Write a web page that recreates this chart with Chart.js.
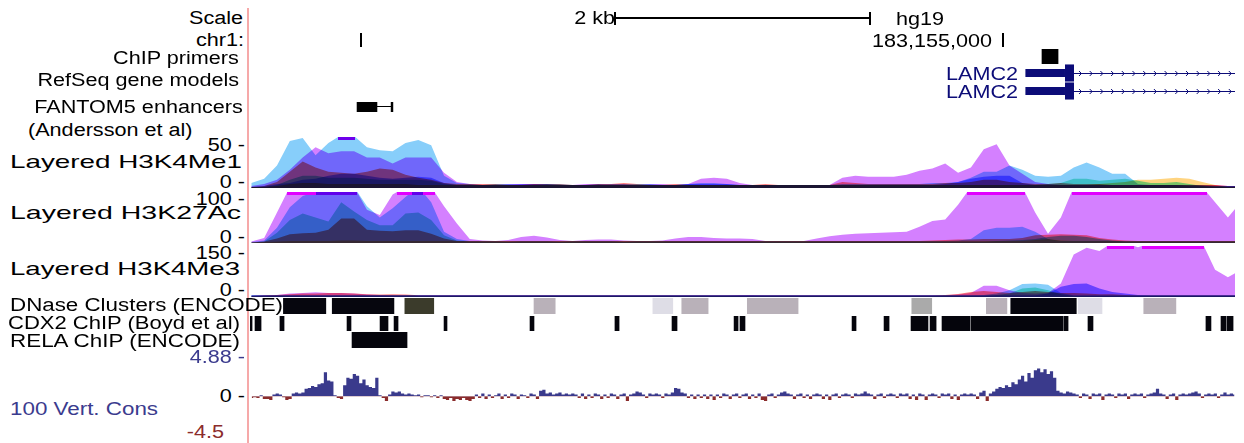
<!DOCTYPE html>
<html>
<head>
<meta charset="utf-8">
<script src="https://cdn.jsdelivr.net/npm/chart.js@4.4.1/dist/chart.umd.min.js"></script>
<style>
html,body{margin:0;padding:0;background:#fff;}
body{position:relative;width:1244px;height:443px;overflow:hidden;font-family:"Liberation Sans",Arial,Helvetica,sans-serif;}
canvas{position:absolute;left:250px;}
.lbl{position:absolute;white-space:nowrap;font-size:18px;line-height:18px;height:18px;}
#pink{position:absolute;left:247px;top:8px;width:2px;height:435px;background:#f6a9a9;}
</style>
</head>
<body>
<div id="pink"></div>
<script>
// ---------------- DATA ----------------
// genomic window chr1 (hg19)
const XMIN = 183149140, XMAX = 183156805;
const TICK_STEP = 5000;           // base-position ticks
const SCALE_BAR_BP = 2000;        // "2 kb"
// signal bins: 100 bp
const BIN_START = 183149150, BIN_STEP = 100, BIN_COUNT = 78;
// conservation bins: 25 bp
const CONS_START = 183149152, CONS_STEP = 25, CONS_COUNT = 307;

// Layered H3K4Me1 (view 0-50)
const k4me1_HUVEC = [5,9,22,46,49,32,44,52,51,40,37,36,44,47,42,12,5,4,
 3,4,4,3,3,4,4,3,3,4,3,3,4,4,3,3,
 4,5,5,4,3,3,3,3,3,3,3,3,4,4,4,4,4,4,4,5,5,6,
 10,16,16,22,18,12,11,12,20,25,20,14,14,4,3,3,3,3,3,2,2,2];
const k4me1_NHEK = [2,4,8,18,30,40,34,36,36,30,30,24,30,30,30,15,6,4,
 3,3,4,4,4,3,3,3,4,4,3,3,3,4,4,3,
 4,9,10,9,5,3,3,3,3,3,3,3,10,12,11,11,11,13,17,19,24,15,
 20,38,43,22,14,6,4,3,3,3,3,3,3,3,3,3,3,3,3,3,2,2];
const k4me1_K562 = [1,2,4,5,8,9,12,14,14,12,10,9,10,11,10,5,3,3,
 3,3,3,4,4,4,3,3,3,3,4,4,3,3,3,3,
 4,4,4,4,3,3,3,3,3,3,3,3,3,3,3,3,3,3,3,3,4,6,
 9,11,12,12,5,3,3,3,3,3,3,3,3,3,3,3,3,2,2,2,2,2];
const k4me1_GM12878 = [1,2,6,16,26,20,16,15,14,16,19,18,13,10,8,5,4,4,
 4,4,3,3,4,4,4,3,3,4,4,5,4,3,3,4,
 3,3,3,3,3,3,4,3,3,3,3,3,6,5,4,4,4,4,4,4,5,5,
 6,8,8,6,5,4,4,5,4,4,4,3,3,3,3,3,3,3,3,3,2,2];
const k4me1_HSMM = [1,1,3,8,12,12,10,10,10,9,8,8,8,8,7,4,3,3,
 3,3,3,3,3,3,3,3,3,3,3,3,3,3,3,3,
 3,3,3,3,3,3,3,3,3,3,3,3,3,3,3,3,3,3,3,3,3,3,
 3,3,3,3,3,3,4,5,9,9,7,8,9,7,5,5,6,4,2,1,1,1];
const k4me1_H1 = [1,1,2,4,5,5,4,4,4,4,4,4,4,3,3,3,3,3,
 3,3,3,3,3,3,3,3,3,3,3,3,3,3,3,3,
 3,3,3,3,3,3,3,3,3,3,3,3,3,3,3,3,3,3,3,3,3,3,
 3,3,3,3,3,3,3,3,3,3,4,5,6,8,8,9,10,9,6,3,1,1];

// Layered H3K27Ac (view 0-100)
const k27_NHEK = [3,10,60,110,110,110,110,110,110,65,55,95,110,110,110,72,38,8,
 5,4,6,12,14,11,6,4,6,7,7,5,4,4,5,9,
 12,12,10,9,9,8,4,4,4,4,9,13,16,18,19,20,21,22,32,43,46,75,
 110,110,110,110,110,60,18,50,110,110,110,110,110,110,110,110,110,110,110,80,50,80];
const k27_HUVEC = [2,5,30,70,92,100,110,110,110,72,50,68,90,110,80,22,8,4,
 4,4,3,4,4,4,3,4,4,4,4,3,4,4,4,4,
 4,4,4,4,4,4,4,4,4,4,4,4,4,4,4,4,4,4,4,4,4,5,
 8,25,30,30,32,22,8,4,4,4,4,4,4,4,4,4,4,4,4,4,4,4];
const k27_HSMM = [1,3,20,45,58,50,42,80,62,45,35,35,58,60,45,15,5,3,
 3,3,3,3,3,3,3,3,3,3,3,3,3,3,3,3,
 3,3,3,3,3,3,3,3,3,3,3,3,3,3,3,3,3,3,3,3,3,3,
 3,3,4,5,6,8,12,14,14,12,8,5,3,3,3,3,3,3,3,3,3,3];
const k27_GM12878 = [1,3,9,17,19,20,26,48,48,26,24,23,25,25,18,9,4,4,
 4,4,4,4,4,4,4,4,4,4,4,4,4,4,4,4,
 4,4,4,4,4,4,4,4,4,4,4,4,4,4,4,4,4,4,4,5,6,7,
 7,8,8,8,10,15,16,17,16,15,10,7,5,4,4,4,4,4,4,4,4,4];
const k27_H1 = [1,2,3,4,4,4,4,5,5,4,4,4,4,4,4,4,4,4,
 4,4,4,4,4,4,4,4,4,4,4,4,4,4,4,4,
 4,4,4,4,4,4,4,4,4,4,4,4,4,4,4,4,4,4,4,4,4,4,
 4,4,4,4,4,6,8,5,4,4,4,4,4,4,4,4,4,4,4,4,4,4];

// Layered H3K4Me3 (view 0-150)
const k4me3_NHEK = [4,5,6,10,12,14,12,12,10,7,6,5,5,5,5,5,5,5,
 5,5,5,5,5,5,5,5,5,5,5,5,5,5,5,5,
 5,5,5,5,6,6,5,5,5,5,5,5,5,5,5,5,5,5,5,5,5,7,
 12,33,33,20,12,10,12,40,125,145,135,160,160,146,160,160,160,160,160,80,58,80];
const k4me3_GM12878 = [4,5,6,8,10,10,12,12,10,8,7,8,7,5,5,5,5,5,
 5,5,5,5,5,5,5,5,5,5,5,5,5,5,5,5,
 5,5,5,5,5,5,5,5,5,5,5,5,5,5,5,5,5,5,5,5,6,9,
 15,18,15,12,15,18,15,12,12,10,8,8,6,5,5,5,5,5,5,5,5,5];
const k4me3_K562 = [5,5,5,5,5,5,5,5,5,5,5,5,5,5,5,5,5,5,
 5,5,5,5,5,5,5,5,5,5,5,5,5,5,5,5,
 5,5,5,5,5,5,5,5,5,5,5,5,5,5,5,5,5,5,5,5,5,5,
 5,5,5,5,5,5,10,30,38,40,25,15,10,6,5,5,5,5,5,5,5,5];
const k4me3_HUVEC = [5,5,5,5,5,5,5,5,5,5,5,5,5,5,5,5,5,5,
 5,5,5,5,5,5,5,5,5,5,5,5,5,5,5,5,
 5,5,5,5,5,5,5,5,5,5,5,5,5,5,5,5,5,5,5,5,5,5,
 5,6,10,20,38,40,36,12,5,5,5,5,5,5,5,5,5,5,5,5,5,5];
const k4me3_HSMM = [4,4,4,4,4,4,4,4,4,4,4,4,4,4,4,4,4,4,
 4,4,4,4,4,4,4,4,4,4,4,4,4,4,4,4,
 4,4,4,4,4,4,4,4,4,4,4,4,4,4,4,4,4,4,4,4,4,4,
 4,4,6,10,25,28,20,8,4,4,4,4,4,4,4,4,4,4,4,4,4,4];

// 100 vertebrates conservation (view -4.5 .. 4.88), 25 bp bins
const consValues = [
 -0.2,-0.1,-0.2,0.1,-0.3,-0.3,-0.4,0.2,0.3,0.2,
 -0.1,-0.4,-0.3,0.3,0.4,0.3,0.4,0.8,0.9,1.1,
 1.0,1.3,1.4,2.6,1.7,1.6,0.1,-0.2,-0.3,1.2,
 2.0,1.9,2.4,2.2,1.4,1.8,1.2,1.0,0.9,2.0,
 0.1,-0.2,-0.5,0.2,0.5,0.4,0.5,0.3,0.2,0.3,
 0.2,0.1,0.2,-0.1,0.1,0.1,-0.1,0.1,-0.2,0.1,
 -0.3,-0.4,-0.2,-0.5,-0.3,-0.4,-0.2,-0.4,-0.5,-0.3,
 0.2,-0.2,0.3,-0.3,0.2,-0.2,0.1,0.3,-0.3,0.2,
 -0.2,0.3,0.2,-0.3,0.2,0.1,-0.2,0.3,0.2,-0.3,
 0.6,0.7,0.3,0.4,0.2,0.3,0.4,0.2,0.3,0.2,
 0.3,0.2,-0.2,0.3,-0.3,0.2,-0.2,0.3,0.2,-0.3,
 0.2,-0.2,0.3,0.2,-0.3,0.2,0.3,-0.5,0.2,0.3,
 0.5,0.4,0.2,-0.2,0.3,0.2,0.3,0.2,-0.2,0.3,
 0.2,0.4,0.9,0.8,0.4,0.3,-0.2,0.2,-0.3,0.2,
 -0.2,0.2,-0.3,0.2,-0.4,0.2,-0.2,0.3,0.2,-0.3,
 0.2,0.3,-0.2,0.2,0.3,-0.3,0.2,-0.2,0.3,-0.4,
 -0.5,0.2,0.3,-0.2,0.2,0.4,0.5,0.3,0.2,-0.3,
 0.2,0.3,-0.2,0.2,-0.3,0.2,0.3,0.2,-0.3,0.2,
 -0.4,0.2,0.3,-0.2,0.2,0.3,0.2,-0.2,0.3,0.2,
 0.3,0.5,0.3,0.2,-0.3,0.2,0.3,-0.2,0.2,0.3,
 0.2,-0.2,0.3,0.2,0.3,-0.3,0.2,-0.4,0.3,0.2,
 -0.4,0.2,0.3,0.2,-0.2,0.3,0.2,0.3,-0.3,0.2,
 -0.4,0.2,0.3,0.2,0.3,0.2,-0.3,0.4,0.6,-0.5,
 0.3,0.5,0.8,1.0,0.9,1.2,1.0,1.5,1.3,1.8,
 2.2,1.6,2.5,2.0,2.8,3.0,2.6,2.9,2.4,2.7,
 2.0,0.6,0.4,0.3,0.5,0.4,0.3,0.2,-0.2,0.3,
 0.2,-0.3,0.3,0.2,0.3,-0.4,0.2,0.3,0.2,-0.2,
 0.3,0.2,0.3,-0.3,0.2,0.3,0.2,0.3,-0.2,0.2,
 0.3,0.4,0.8,0.3,0.2,-0.3,0.2,0.3,-0.4,0.2,
 0.3,0.2,0.3,0.4,0.5,0.3,-0.2,0.2,0.3,0.2,
 0.3,-0.2,0.2,0.4,0.2,0.3,0.2];

// DNase clusters (ENCODE): start, end, score
const dnaseStarts = [183149400,183149780,183150345,183151350,183152275,183152500,183153010,183154290,183154870,183155060,183155585,183156095];
const dnaseEnds   = [183149730,183150260,183150570,183151515,183152430,183152705,183153405,183154445,183155030,183155570,183155770,183156345];
const dnaseScores = [1000,1000,800,300,150,300,300,400,300,1000,150,300];

// CDX2 ChIP peaks (Boyd et al)
const cdx2Starts = [183149130,183149179,183149373,183149895,183150152,183150261,183150650,183151319,183151980,183152424,183152907,183152953,183153825,183154074,183154284,183154432,183154525,183154751,183155474,183155661,183156579,183156696,183156743];
const cdx2Ends   = [183149156,183149226,183149405,183149926,183150214,183150292,183150673,183151350,183152012,183152463,183152938,183152992,183153856,183154113,183154416,183154479,183154743,183155467,183155506,183155700,183156618,183156735,183156790];

// RELA ChIP (ENCODE)
const relaStarts = [183149934];
const relaEnds   = [183150362];

// ChIP primers
const primerStarts = [183155303];
const primerEnds   = [183155428];

// FANTOM5 enhancer (blocks of one feature)
const fantomBlockStarts = [183149973, 183150238];
const fantomBlockEnds   = [183150128, 183150252];

// RefSeq LAMC2 transcripts
const geneNames    = ['LAMC2', 'LAMC2'];
const geneTxStart  = [183155174, 183155174];
const geneCdsStart = [183155482, 183155482];
const geneExon1End = [183155552, 183155552];
const geneTxEnd    = [183214035, 183214035];

// ---------------- RENDERING ----------------
const W = 985;
const binPos = Array.from({length: BIN_COUNT}, (_, i) => BIN_START + i * BIN_STEP);
const consPos = Array.from({length: CONS_COUNT}, (_, i) => CONS_START + i * CONS_STEP);

const COL = {
  GM12878: 'rgb(255,128,128)', H1: 'rgb(255,212,128)', HSMM: 'rgb(120,235,204)',
  HUVEC: 'rgb(135,206,250)', K562: 'rgb(128,128,255)', NHEK: 'rgb(212,128,255)'
};
const CLIP = { NHEK: [225,0,255], HUVEC: [110,0,235] };
const NAVY = '#0c0c78';

function mkCanvas(top, h) {
  const c = document.createElement('canvas');
  c.width = W; c.height = h;
  c.style.top = top + 'px'; c.style.width = W + 'px'; c.style.height = h + 'px';
  document.body.appendChild(c);
  return c;
}
function baseOptions(extra) {
  return Object.assign({
    responsive: false, animation: false, devicePixelRatio: 1, events: [],
    layout: { padding: 0 },
    plugins: { legend: { display: false }, tooltip: { enabled: false } }
  }, extra);
}
const xScale = () => ({ type: 'linear', min: XMIN, max: XMAX, display: false });

function valueAt(data, v) {
  if (v <= data[0].x) return data[0].y;
  for (let i = 1; i < data.length; i++) {
    if (v <= data[i].x) {
      const a = data[i - 1], b = data[i];
      return a.y + (b.y - a.y) * (v - a.x) / (b.x - a.x);
    }
  }
  return data[data.length - 1].y;
}

const layerPlugin = {
  id: 'layered',
  beforeDatasetsDraw(chart) { chart.ctx.save(); chart.ctx.globalCompositeOperation = 'multiply'; },
  afterDatasetsDraw(chart) {
    const ctx = chart.ctx; ctx.restore();
    const { left, right, top } = chart.chartArea;
    const xs = chart.scales.x, max = chart.scales.y.max;
    ctx.save();
    for (let px = Math.floor(left); px < right; px++) {
      const v = xs.getValueForPixel(px + 0.5);
      let col = null;
      chart.data.datasets.forEach(ds => {
        if (!ds.clipColor) return;
        if (valueAt(ds.data, v) > max) {
          col = col ? col.map((c, k) => Math.round(c * ds.clipColor[k] / 255)) : ds.clipColor.slice();
        }
      });
      if (col) { ctx.fillStyle = 'rgb(' + col.join(',') + ')'; ctx.fillRect(px, top, 1, 3); }
    }
    ctx.restore();
  }
};

function layeredTrack(top, h, max, layers) {
  new Chart(mkCanvas(top, h), {
    type: 'line',
    data: { datasets: layers.map(L => ({
      data: binPos.map((x, i) => ({ x, y: L.values[i] })),
      backgroundColor: L.color, fill: 'origin', borderWidth: 0, pointRadius: 0, tension: 0,
      clipColor: L.clip || null
    })) },
    options: baseOptions({ scales: { x: xScale(), y: { display: false, min: 0, max } } }),
    plugins: [layerPlugin]
  });
}

function intervalTrack(top, h, starts, ends, colors, extraPlugins) {
  new Chart(mkCanvas(top, h), {
    type: 'bar',
    data: { labels: ['f'], datasets: starts.map((s, k) => ({
      data: [[s, ends[k]]], backgroundColor: colors[k], borderWidth: 0,
      barPercentage: 1, categoryPercentage: 1, grouped: false
    })) },
    options: baseOptions({ indexAxis: 'y', scales: { x: xScale(), y: { type: 'category', display: false } } }),
    plugins: extraPlugins || []
  });
}

// --- base position / scale bar ---
const axisPlugin = {
  id: 'axisdraw',
  afterDraw(chart) {
    const ctx = chart.ctx, xs = chart.scales.x;
    ctx.save(); ctx.fillStyle = '#000';
    for (let p = Math.ceil(XMIN / TICK_STEP) * TICK_STEP; p <= XMAX; p += TICK_STEP) {
      const px = Math.round(xs.getPixelForValue(p));
      ctx.fillRect(px - 1, 33, 2, 14);
    }
    const mid = (XMIN + XMAX) / 2;
    const a = Math.round(xs.getPixelForValue(mid - SCALE_BAR_BP / 2));
    const b = Math.round(xs.getPixelForValue(mid + SCALE_BAR_BP / 2));
    ctx.fillRect(a, 17, b - a, 2);
    ctx.fillRect(a, 12, 2, 13);
    ctx.fillRect(b - 2, 12, 2, 13);
    ctx.restore();
  }
};
new Chart(mkCanvas(0, 50), {
  type: 'line', data: { datasets: [] },
  options: baseOptions({ scales: { x: xScale(), y: { display: false, min: 0, max: 1 } } }),
  plugins: [axisPlugin]
});

// --- ChIP primers ---
intervalTrack(49, 15, primerStarts, primerEnds, primerStarts.map(() => '#000'));

// --- RefSeq genes ---
const genePlugin = {
  id: 'introns',
  afterDatasetsDraw(chart) {
    const ctx = chart.ctx, xs = chart.scales.x, ys = chart.scales.y;
    const { left, right } = chart.chartArea;
    ctx.save(); ctx.strokeStyle = NAVY; ctx.lineWidth = 1;
    geneNames.forEach((g, k) => {
      const yc = Math.round(ys.getPixelForValue(k)) + 0.5;
      const a = Math.max(xs.getPixelForValue(geneExon1End[k]), left);
      const b = Math.min(xs.getPixelForValue(geneTxEnd[k]), right);
      ctx.beginPath(); ctx.moveTo(a, yc); ctx.lineTo(b, yc); ctx.stroke();
      for (let x = a + 7; x < b - 2; x += 10.7) {
        ctx.beginPath(); ctx.moveTo(x - 2, yc - 2.5); ctx.lineTo(x + 0.5, yc); ctx.lineTo(x - 2, yc + 2.5); ctx.stroke();
      }
    });
    ctx.restore();
  }
};
new Chart(mkCanvas(64, 36), {
  type: 'bar',
  data: { labels: geneNames.map((g, k) => g + k), datasets: [
    { data: geneTxStart.map((s, k) => [s, geneCdsStart[k]]), backgroundColor: NAVY, borderWidth: 0,
      barPercentage: 0.45, categoryPercentage: 1, grouped: false },
    { data: geneCdsStart.map((s, k) => [s, geneExon1End[k]]), backgroundColor: NAVY, borderWidth: 0,
      barPercentage: 0.95, categoryPercentage: 1, grouped: false }
  ] },
  options: baseOptions({ indexAxis: 'y', scales: { x: xScale(), y: { type: 'category', display: false } } }),
  plugins: [genePlugin]
});

// --- FANTOM5 enhancers ---
const fantomPlugin = {
  id: 'fantomline',
  afterDatasetsDraw(chart) {
    const ctx = chart.ctx, xs = chart.scales.x, { top, bottom } = chart.chartArea;
    const yc = Math.round((top + bottom) / 2) - 0.5;
    ctx.save(); ctx.strokeStyle = '#000'; ctx.lineWidth = 1;
    for (let k = 1; k < fantomBlockStarts.length; k++) {
      ctx.beginPath();
      ctx.moveTo(xs.getPixelForValue(fantomBlockEnds[k - 1]), yc);
      ctx.lineTo(xs.getPixelForValue(fantomBlockStarts[k]), yc);
      ctx.stroke();
    }
    ctx.restore();
  }
};
intervalTrack(102, 10, fantomBlockStarts, fantomBlockEnds, fantomBlockStarts.map(() => '#000'), [fantomPlugin]);

// --- Layered histone tracks ---
layeredTrack(137, 51, 50, [
  { values: k4me1_HUVEC, color: COL.HUVEC, clip: CLIP.HUVEC },
  { values: k4me1_NHEK, color: COL.NHEK, clip: CLIP.NHEK },
  { values: k4me1_K562, color: COL.K562 },
  { values: k4me1_GM12878, color: COL.GM12878 },
  { values: k4me1_HSMM, color: COL.HSMM },
  { values: k4me1_H1, color: COL.H1 }
]);
layeredTrack(192, 51, 100, [
  { values: k27_HUVEC, color: COL.HUVEC, clip: CLIP.HUVEC },
  { values: k27_NHEK, color: COL.NHEK, clip: CLIP.NHEK },
  { values: k27_HSMM, color: COL.HSMM },
  { values: k27_GM12878, color: COL.GM12878 },
  { values: k27_H1, color: COL.H1 }
]);
layeredTrack(246, 51, 150, [
  { values: k4me3_HUVEC, color: COL.HUVEC, clip: CLIP.HUVEC },
  { values: k4me3_NHEK, color: COL.NHEK, clip: CLIP.NHEK },
  { values: k4me3_K562, color: COL.K562 },
  { values: k4me3_GM12878, color: COL.GM12878 },
  { values: k4me3_HSMM, color: COL.HSMM }
]);

// --- DNase clusters ---
function dnaseColor(s) {
  if (s >= 900) return '#06060e';
  if (s >= 700) return '#3b3b2b';
  if (s >= 350) return '#aaaaaa';
  if (s >= 250) return '#b9b1b9';
  return '#dedde6';
}
intervalTrack(298, 16, dnaseStarts, dnaseEnds, dnaseScores.map(dnaseColor));
// --- CDX2 ChIP ---
intervalTrack(316, 15, cdx2Starts, cdx2Ends, cdx2Starts.map(() => '#05050c'));
// --- RELA ChIP ---
intervalTrack(332, 16, relaStarts, relaEnds, relaStarts.map(() => '#05050c'));

// --- Conservation ---
new Chart(mkCanvas(351, 87), {
  type: 'line',
  data: { datasets: [{
    data: consPos.map((x, i) => ({ x, y: consValues[i] })),
    stepped: 'middle', borderWidth: 0, pointRadius: 0,
    fill: { target: 'origin', above: '#3a3a8c', below: '#8b2c2c' }
  }] },
  options: baseOptions({ scales: { x: xScale(), y: { display: false, min: -4.5, max: 4.88 } } })
});

// ---------------- TEXT LABELS ----------------
// [text, anchor side, anchor x, centre y, colour, font size, fitted width]
const LABELS = [
  ['Scale', 'r', 243, 18, '#000'],
  ['chr1:', 'r', 244, 40, '#000'],
  ['ChIP primers', 'r', 239, 58, '#000'],
  ['RefSeq gene models', 'r', 239, 80, '#000'],
  ['FANTOM5 enhancers', 'r', 243, 107, '#000'],
  ['(Andersson et al)', 'l', 28, 130, '#000'],
  ['Layered H3K4Me1', 'l', 10, 161, '#000', 19, 232],
  ['50 -', 'r', 245, 145, '#000'],
  ['0 -', 'r', 245, 182, '#000'],
  ['Layered H3K27Ac', 'l', 10, 212, '#000', 19, 231],
  ['100 -', 'r', 245, 199, '#000'],
  ['0 -', 'r', 245, 237, '#000'],
  ['Layered H3K4Me3', 'l', 10, 268, '#000', 19, 230],
  ['150 -', 'r', 245, 253, '#000'],
  ['0 -', 'r', 245, 290, '#000'],
  ['DNase Clusters (ENCODE)', 'l', 10, 305, '#000', 18, 273],
  ['CDX2 ChIP (Boyd et al)', 'l', 8, 323, '#000', 18, 232],
  ['RELA ChIP (ENCODE)', 'l', 10, 341, '#000', 18, 230],
  ['100 Vert. Cons', 'l', 10, 409, '#3b3b8e', 18, 148],
  ['4.88 -', 'r', 245, 357, '#3b3b8e'],
  ['0 -', 'r', 245, 396, '#000'],
  ['-4.5', 'r', 224, 432, '#8b2c2c'],
  ['2 kb', 'r', 615, 18, '#000'],
  ['hg19', 'l', 896, 19, '#000'],
  ['183,155,000', 'r', 992, 41, '#000'],
  ['LAMC2', 'r', 1018, 74, NAVY],
  ['LAMC2', 'r', 1018, 92, NAVY]
];
LABELS.forEach(([t, side, x, cy, col, fs, fitW]) => {
  const size = fs || 18;
  const d = document.createElement('div');
  d.className = 'lbl'; d.textContent = t; d.style.color = col;
  d.style.fontSize = size + 'px'; d.style.lineHeight = size + 'px'; d.style.height = size + 'px';
  d.style.top = (cy - size / 2) + 'px';
  if (side === 'r') { d.style.right = (1244 - x) + 'px'; d.style.transformOrigin = 'right center'; }
  else { d.style.left = x + 'px'; d.style.transformOrigin = 'left center'; }
  document.body.appendChild(d);
  let sx = 1.2;
  if (fitW) sx = fitW / d.getBoundingClientRect().width;
  d.style.transform = 'scaleX(' + sx.toFixed(3) + ')';
});
</script>
</body>
</html>
